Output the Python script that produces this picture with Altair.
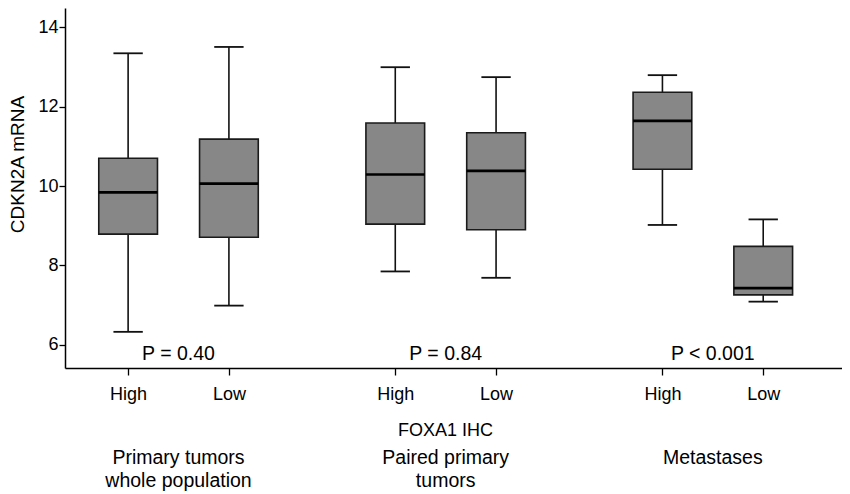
import altair as alt
import pandas as pd

# ---- data ----
groups = ["Primary tumors\nwhole population", "Paired primary\ntumors", "Metastases"]
levels = ["High", "Low"]
p_values = ["P = 0.40", "P = 0.84", "P < 0.001"]

lower = [6.33, 6.99, 7.85, 7.69, 9.02, 7.09]
q1 = [8.79, 8.71, 9.04, 8.90, 10.42, 7.26]
median = [9.84, 10.06, 10.29, 10.38, 11.64, 7.43]
q3 = [10.70, 11.18, 11.585, 11.34, 12.36, 8.48]
upper = [13.34, 13.50, 12.99, 12.74, 12.79, 9.16]

# ---- layout constants (not data) ----
FIRST_CENTER = 1.16
GROUP_STEP = 2.73
WITHIN = 1.03
BOX_HALF = 0.30
CAP_HALF = 0.15
FONT = "Liberation Sans, Arial, Helvetica, sans-serif"

rows = []
for gi, g in enumerate(groups):
    center = FIRST_CENTER + gi * GROUP_STEP
    for li, lev in enumerate(levels):
        i = gi * 2 + li
        pos = round(center + (li - 0.5) * WITHIN, 3)
        rows.append(dict(
            group=g, level=lev, pos=pos,
            box_lo=pos - BOX_HALF, box_hi=pos + BOX_HALF,
            cap_lo=pos - CAP_HALF, cap_hi=pos + CAP_HALF,
            lower=lower[i], q1=q1[i], median=median[i], q3=q3[i], upper=upper[i],
        ))
df = pd.DataFrame(rows)

gdf = pd.DataFrame({
    "group": groups,
    "p": p_values,
    "center": [FIRST_CENTER + gi * GROUP_STEP for gi in range(len(groups))],
})

high_pos = [int(round(p * 1000)) for p in df.loc[df.level == "High", "pos"]]
label_expr = "indexof([%s], round(datum.value*1000)) >= 0 ? 'High' : 'Low'" % ",".join(str(v) for v in high_pos)

xscale = alt.Scale(domain=[0, 7.94], nice=False, zero=False)
yscale = alt.Scale(domain=[5.42, 14.48], nice=False, zero=False)

xaxis = alt.Axis(
    values=list(df["pos"]), labelExpr=label_expr, grid=False,
    title="FOXA1 IHC", titleFontWeight="normal", titleFontSize=18, titleFont=FONT,
    titleX=380, titleY=53, titleBaseline="top", titleAlign="center", titleColor="#000",
    labelFontSize=18, labelFont=FONT, labelColor="#000", labelPadding=10,
    tickSize=7, tickColor="#000", tickWidth=1.3,
    domainColor="#000", domainWidth=1.5,
)
yaxis = alt.Axis(
    values=[6, 8, 10, 12, 14], grid=False,
    title="CDKN2A mRNA", titleFontWeight="normal", titleFontSize=19, titleFont=FONT,
    titleX=-38, titleY=156, titleColor="#000",
    labelFontSize=18, labelFont=FONT, labelColor="#000", labelPadding=1,
    tickSize=6, tickColor="#000", tickWidth=1.3,
    domainColor="#000", domainWidth=1.5,
)

def X(field):
    return alt.X(field, type="quantitative", scale=xscale, axis=xaxis)

def Y(field):
    return alt.Y(field, type="quantitative", scale=yscale, axis=yaxis)

base = alt.Chart(df)

whisk_lo = base.mark_rule(color="#111", strokeWidth=1.6).encode(x=X("pos"), y=Y("lower"), y2="q1")
whisk_hi = base.mark_rule(color="#111", strokeWidth=1.6).encode(x=X("pos"), y=Y("q3"), y2="upper")
cap_lo = base.mark_rule(color="#111", strokeWidth=1.8).encode(x=X("cap_lo"), x2="cap_hi", y=Y("lower"))
cap_hi = base.mark_rule(color="#111", strokeWidth=1.8).encode(x=X("cap_lo"), x2="cap_hi", y=Y("upper"))
box = base.mark_rect(fill="#878787", stroke="#1a1a1a", strokeWidth=1.6).encode(
    x=X("box_lo"), x2="box_hi", y=Y("q1"), y2="q3")
med = base.mark_rule(color="#000", strokeWidth=2.6).encode(x=X("box_lo"), x2="box_hi", y=Y("median"))

ptext = alt.Chart(gdf).mark_text(fontSize=19.5, font=FONT, color="#000", baseline="middle").encode(
    x=X("center"), y=alt.value(346), text="p")
gtext = alt.Chart(gdf).mark_text(fontSize=19.5, font=FONT, color="#000", baseline="top",
                                 lineBreak="\n", lineHeight=23).encode(
    x=X("center"), y=alt.value(441), text="group")

chart = alt.layer(whisk_lo, whisk_hi, cap_lo, cap_hi, box, med, ptext, gtext).properties(
    width=777, height=360, autosize="none",
    padding={"left": 57, "top": 0, "right": 0, "bottom": 124},
    background="white",
).configure_view(stroke=None)

chart.save("out.html", embed_options={"renderer": "svg", "actions": False})
